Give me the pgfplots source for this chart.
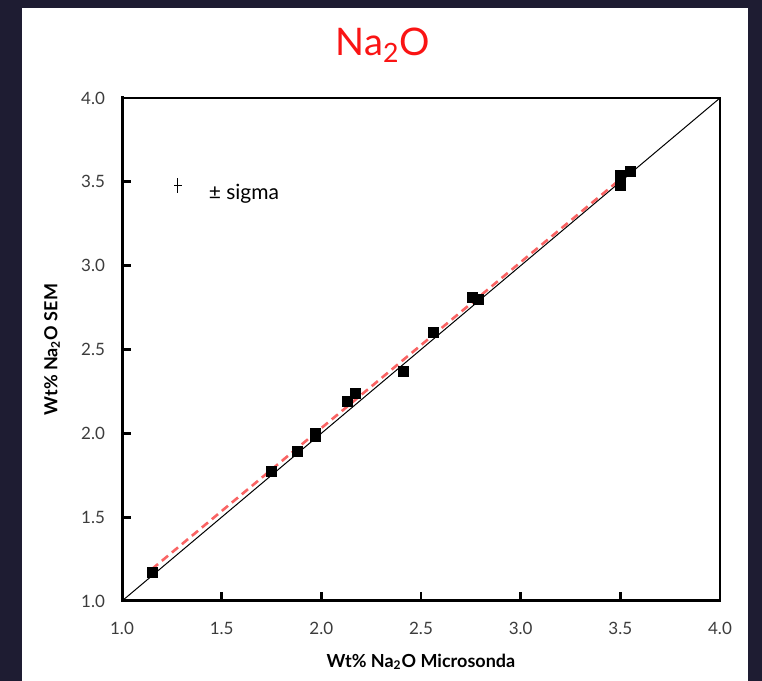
\documentclass[border=0pt]{standalone}
\usepackage{pgfplots}
\pgfplotsset{compat=1.18}
\usepackage{fontspec}
\setmainfont{Lato}
\definecolor{darkbg}{RGB}{30,28,50}
\definecolor{titlered}{RGB}{250,20,20}
\definecolor{regred}{RGB}{250,100,100}
\definecolor{ticktxt}{RGB}{60,60,60}
\begin{document}
\begin{tikzpicture}
\useasboundingbox (0,0) rectangle (381pt,340.5pt);
\fill[darkbg] (0,0) rectangle (381pt,340.5pt);
\fill[white] (11pt,0) rectangle (374pt,336.5pt);
\node[text=titlered, font=\fontsize{19}{22}\selectfont] at (191.5pt,318pt) {Na\textsubscript{2}O};
\begin{axis}[
  name=ax,
  at={(61pt,40pt)}, anchor=south west,
  scale only axis, width=299pt, height=251.5pt,
  xmin=1, xmax=4, ymin=1, ymax=4,
  xtick={1,1.5,2,2.5,3,3.5,4}, ytick={1,1.5,2,2.5,3,3.5,4},
  xtick pos=bottom, ytick pos=left,
  xtick align=inside, ytick align=inside,
  major tick length=4.5pt,
  major tick style={draw=black, line width=1.4pt},
  axis line style={line width=0.6pt},
  tick label style={font=\fontsize{8.5}{10}\selectfont, text=ticktxt,
    /pgf/number format/assume math mode=true,
    /pgf/number format/fixed, /pgf/number format/fixed zerofill, /pgf/number format/precision=1},
  xticklabel style={yshift=-7pt},
  yticklabel style={xshift=-5pt},
  xlabel={\textbf{Wt\% Na\textsubscript{2}O Microsonda}},
  ylabel={\textbf{Wt\% Na\textsubscript{2}O SEM}},
  label style={font=\fontsize{9}{10}\selectfont},
  xlabel style={at={(axis description cs:0.5,0)}, anchor=center, yshift=-30.5pt},
  ylabel style={at={(axis description cs:0,0.5)}, anchor=center, yshift=35pt},
  clip=false,
]
\addplot[black, line width=0.5pt] coordinates {(1,1) (4,4)};
\addplot[regred, line width=1.3pt, dash pattern=on 4pt off 2.5pt] coordinates {(1.15,1.19) (3.55,3.565)};
\addplot[only marks, mark=square*, mark size=2.5pt, black] coordinates {
(1.15,1.17) (1.75,1.77) (1.88,1.89) (1.97,1.98) (1.97,2.00) (2.13,2.19) (2.17,2.24)
(2.41,2.37) (2.56,2.60) (2.76,2.81) (2.79,2.80) (3.50,3.48) (3.50,3.54) (3.55,3.56)
};
\addplot[black, line width=0.5pt, no marks, draw=none,
  error bars/.cd, x dir=both, x explicit, y dir=both, y explicit,
  error mark=none, error bar style={black, line width=0.5pt}]
  coordinates {(1.28,3.48) +- (0.02,0.045)};
\node[anchor=west, font=\fontsize{10.5}{12}\selectfont] at (axis cs:1.40,3.43) {± sigma};
\pgfplotsinvokeforeach{1.5,2,2.5,3,3.5,4}{
  \draw[line width=1.4pt] (axis cs:#1,1) -- ++(0pt,4pt);
  \draw[line width=1.4pt] (axis cs:1,#1) -- ++(4pt,0pt);
}
\end{axis}
\draw[line width=1.5pt, line cap=rect] (ax.north west) -- (ax.south west) -- (ax.south east);
\end{tikzpicture}
\end{document}
